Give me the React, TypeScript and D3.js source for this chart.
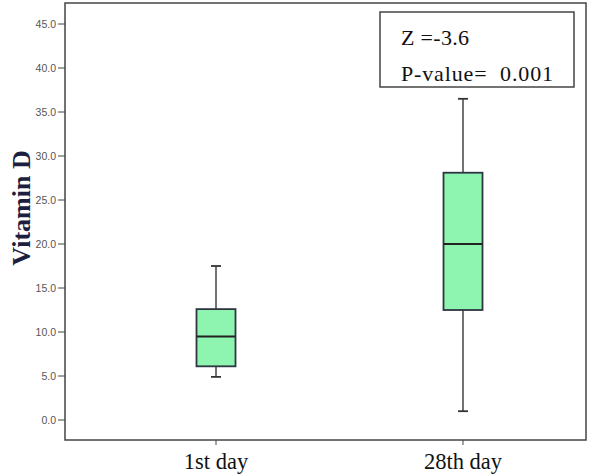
import React from "react";
import * as d3 from "d3";

const categories = ["1st day", "28th day"];
const whiskerLow = [4.9, 1.0];
const q1 = [6.1, 12.5];
const median = [9.5, 20.0];
const q3 = [12.6, 28.1];
const whiskerHigh = [17.5, 36.5];
const yTicks = [0, 5, 10, 15, 20, 25, 30, 35, 40, 45];
const statLines = ["Z =-3.6", "P-value=  0.001"];

const W = 597;
const H = 475;
const frame = { left: 65, top: 3, right: 586, bottom: 440 };

export default function App() {
  const y = d3.scaleLinear().domain([0, 45]).range([420, 24]);
  const x = d3.scalePoint<string>().domain(categories).range([216, 463]);
  const boxW = 39;
  const capW = 10;
  const serif = "'Liberation Serif', 'Times New Roman', serif";
  const sans = "'Liberation Sans', Arial, sans-serif";
  const statLen = [68, 152];
  const statY = [45, 81];

  return (
    <div style={{ position: "absolute", left: 0, top: 0 }}>
      <svg width={W} height={H} style={{ display: "block", background: "#fff" }}>
        <rect
          x={frame.left}
          y={frame.top}
          width={frame.right - frame.left}
          height={frame.bottom - frame.top}
          fill="none"
          stroke="#444"
          strokeWidth={1.5}
        />
        {yTicks.map((t) => (
          <g key={t}>
            <line x1={frame.left - 7} x2={frame.left} y1={y(t)} y2={y(t)} stroke="#444" strokeWidth={1} />
            <text
              x={frame.left - 9}
              y={y(t)}
              dy="0.35em"
              textAnchor="end"
              fontFamily={sans}
              fontSize={10.5}
              fill="#555"
            >
              {t.toFixed(1)}
            </text>
          </g>
        ))}
        {categories.map((c) => (
          <g key={c}>
            <line x1={x(c)} x2={x(c)} y1={frame.bottom} y2={frame.bottom + 5} stroke="#444" strokeWidth={1} />
            <text x={x(c)} y={469} textAnchor="middle" fontFamily={serif} fontSize={22.5} fill="#111">
              {c}
            </text>
          </g>
        ))}
        <text
          transform={`translate(30, 208) rotate(-90)`}
          textAnchor="middle"
          fontFamily={serif}
          fontWeight="bold"
          fontSize={26}
          fill="#1c2040"
        >
          Vitamin D
        </text>
        {categories.map((c, i) => {
          const cx = x(c) as number;
          return (
            <g key={c}>
              <line x1={cx} x2={cx} y1={y(whiskerHigh[i])} y2={y(q3[i])} stroke="#444" strokeWidth={1.5} />
              <line x1={cx} x2={cx} y1={y(q1[i])} y2={y(whiskerLow[i])} stroke="#444" strokeWidth={1.5} />
              <line x1={cx - capW / 2} x2={cx + capW / 2} y1={y(whiskerHigh[i])} y2={y(whiskerHigh[i])} stroke="#333" strokeWidth={1.8} />
              <line x1={cx - capW / 2} x2={cx + capW / 2} y1={y(whiskerLow[i])} y2={y(whiskerLow[i])} stroke="#333" strokeWidth={1.8} />
              <rect
                x={cx - boxW / 2}
                y={y(q3[i])}
                width={boxW}
                height={y(q1[i]) - y(q3[i])}
                fill="#8ef5b0"
                stroke="#2e3440"
                strokeWidth={1.8}
              />
              <line x1={cx - boxW / 2} x2={cx + boxW / 2} y1={y(median[i])} y2={y(median[i])} stroke="#222" strokeWidth={2} />
            </g>
          );
        })}
        <rect x={380} y={12} width={194} height={75} fill="#fff" stroke="#444" strokeWidth={1.5} />
        {statLines.map((s, i) => (
          <text
            key={i}
            x={401}
            y={statY[i]}
            textLength={statLen[i]}
            lengthAdjust="spacing"
            fontFamily={serif}
            fontSize={22}
            fill="#111"
            style={{ whiteSpace: "pre" }}
          >
            {s}
          </text>
        ))}
      </svg>
    </div>
  );
}
